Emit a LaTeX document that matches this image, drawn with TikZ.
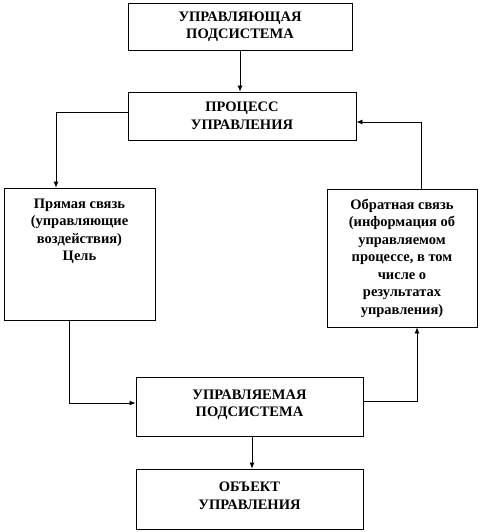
\documentclass[tikz,border=0pt]{standalone}
\usepackage{fontspec}
\setmainfont{Liberation Serif}
\usetikzlibrary{arrows.meta}
\begin{document}
\begin{tikzpicture}[x=1pt,y=-1pt,
    blok/.style={draw,thick,align=center,inner sep=2pt,
        font=\fontsize{14.5}{17.5}\selectfont\bfseries},
    strelka/.style={thick,-{Latex[length=6pt,width=5pt]}}]
    \useasboundingbox (0,0) rectangle (479,532);
    \node[blok,minimum width=224,minimum height=47] (upr) at (240,26.5)
        {УПРАВЛЯЮЩАЯ\\ПОДСИСТЕМА};
    \node[blok,minimum width=228,minimum height=48] (proc) at (242,116)
        {ПРОЦЕСС\\УПРАВЛЕНИЯ};
    \node[blok,minimum width=151,minimum height=132] (pryam) at (79.5,254) {};
    \node[blok,draw=none,anchor=north] (pryamtxt) at ([yshift=-9pt]pryam.north)
        {Прямая связь\\(управляющие\\воздействия)\\Цель};
    \node[blok,minimum width=150,minimum height=138] (obr) at (402,258)
        {Обратная связь\\(информация об\\управляемом\\процессе, в том\\числе о\\результатах\\управления)};
    \node[blok,minimum width=227,minimum height=59,text depth=7pt] (uprv) at (249.5,406.5)
        {УПРАВЛЯЕМАЯ\\ПОДСИСТЕМА};
    \node[blok,minimum width=227,minimum height=60,text depth=7pt] (obj) at (249.5,499)
        {ОБЪЕКТ\\УПРАВЛЕНИЯ};
    % связи
    \draw[strelka] (upr.south) -- (upr.south |- proc.north);
    \draw[strelka] ([yshift=4pt]proc.west) -| ([xshift=-23.5pt]pryam.north);
    \draw[strelka] ([xshift=-10pt]pryam.south) |- ([yshift=3.5pt]uprv.west);
    \draw[strelka] ([yshift=5.5pt]uprv.east) -| ([xshift=15pt]obr.south);
    \draw[strelka] ([xshift=19pt]obr.north) |- ([yshift=-6pt]proc.east);
    \draw[strelka] ([xshift=2.5pt]uprv.south) -- ([xshift=2.5pt]obj.north);
\end{tikzpicture}
\end{document}
